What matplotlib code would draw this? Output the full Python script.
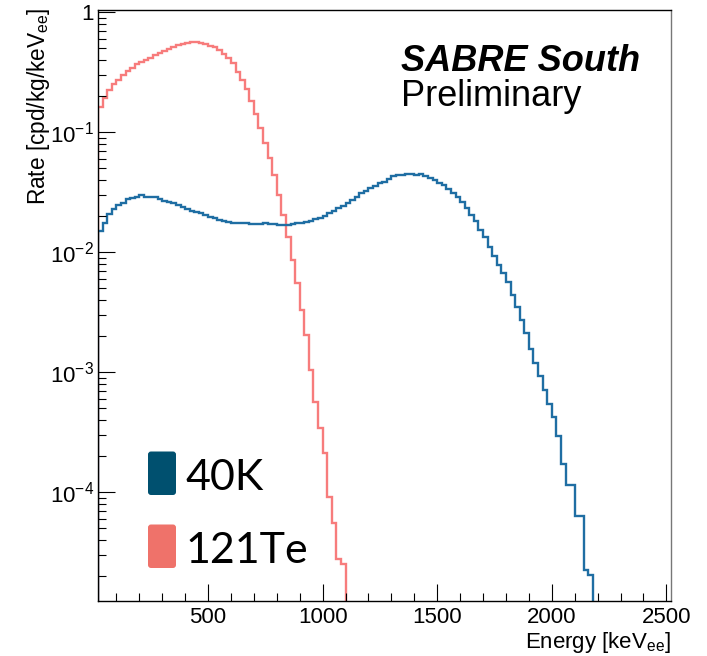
import matplotlib
matplotlib.use('Agg')
import matplotlib.pyplot as plt
import numpy as np
from matplotlib.patches import FancyBboxPatch
from matplotlib.ticker import MultipleLocator, LogLocator, FuncFormatter, NullFormatter

plt.rcParams['font.family'] = 'Liberation Sans'
plt.rcParams['mathtext.fontset'] = 'custom'
plt.rcParams['mathtext.rm'] = 'Liberation Sans'
plt.rcParams['mathtext.it'] = 'Liberation Sans:italic'

# Binning of the spectra (keV)
e_min = 20
e_max = 2520
bin_width = 20

# 40K rate per bin, cpd/kg/keV (bins from 20 keV up, zero afterwards)
k40 = [0.0151, 0.0177, 0.0207, 0.0228, 0.0248, 0.0259, 0.0276, 0.0282, 0.0287, 0.0299,
       0.0291, 0.0291, 0.0287, 0.0278, 0.0269, 0.0264, 0.0256, 0.0248, 0.0240, 0.0230,
       0.0222, 0.0218, 0.0211, 0.0205, 0.0198, 0.0192, 0.0186, 0.0183, 0.0180, 0.0177,
       0.0174, 0.0174, 0.0174, 0.0172, 0.0171, 0.0171, 0.0174, 0.0171, 0.0171, 0.0169,
       0.0169, 0.0169, 0.0171, 0.0174, 0.0177, 0.0180, 0.0183, 0.0188, 0.0194, 0.0202,
       0.0211, 0.0222, 0.0233, 0.0245, 0.0259, 0.0273, 0.0291, 0.0310, 0.0326, 0.0342,
       0.0357, 0.0376, 0.0388, 0.0406, 0.0432, 0.0441, 0.0441, 0.0447, 0.0447, 0.0441,
       0.0449, 0.0435, 0.0414, 0.0400, 0.0376, 0.0364, 0.0335, 0.0314, 0.0287, 0.0261,
       0.0233, 0.0205, 0.0182, 0.0153, 0.0135, 0.0111, 0.00937, 0.00784, 0.00668, 0.00562,
       0.00441, 0.00348, 0.00273, 0.00214, 0.00156, 0.00120, 0.000931, 0.000712, 0.000544, 0.000427,
       0.000294, 0.000171, 0.000115, 0.000115, 6.35e-5, 6.35e-5, 2.25e-5, 2.05e-5]

# 121Te rate per bin, cpd/kg/keV
te121 = [0.162, 0.192, 0.225, 0.251, 0.273, 0.300, 0.324, 0.345, 0.369, 0.383,
         0.400, 0.418, 0.441, 0.455, 0.476, 0.494, 0.511, 0.531, 0.544, 0.558,
         0.566, 0.566, 0.558, 0.544, 0.527, 0.511, 0.485, 0.449, 0.416, 0.376,
         0.320, 0.273, 0.228, 0.182, 0.142, 0.108, 0.0810, 0.0607, 0.0441, 0.0300,
         0.0205, 0.0135, 0.00863, 0.00552, 0.00331, 0.00205, 0.00104, 0.000569, 0.000341, 0.000211,
         9.2e-5, 5.5e-5, 2.8e-5, 2.53e-5]

labels = ['40K', '121Te']
line_colors = ['#1f6ea3', '#f77c7c']
legend_colors = ['#00506f', '#ef726a']

edges = np.arange(e_min, e_max + bin_width, bin_width)
n_bins = len(edges) - 1


def pad(vals):
    # empty bins sit below the frame, like ROOT draws them
    out = np.full(n_bins, 1e-9)
    out[:len(vals)] = vals
    return out


fig = plt.figure(figsize=(7.07, 6.56), dpi=100)
ax = fig.add_axes([98 / 707, 1 - 601 / 656, 573 / 707, 591 / 656])

ax.stairs(pad(te121), edges, color=line_colors[1], lw=1.7)
ax.stairs(pad(k40), edges, color=line_colors[0], lw=1.7)

ax.set_yscale('log')
ax.set_xlim(e_min, e_max)
ax.set_ylim(1.24e-5, 1.045)

ax.xaxis.set_major_locator(MultipleLocator(500))
ax.xaxis.set_minor_locator(MultipleLocator(100))
ax.yaxis.set_major_locator(LogLocator(base=10))
ax.yaxis.set_minor_locator(LogLocator(base=10, subs=np.arange(2, 10)))
ax.yaxis.set_minor_formatter(NullFormatter())


def ylab(v, pos):
    p = int(round(np.log10(v)))
    if p == 0:
        return '1'
    return r'$10^{%d}$' % p


ax.yaxis.set_major_formatter(FuncFormatter(ylab))

ax.tick_params(which='both', direction='in', top=False, right=False, width=0.8,
               labelsize=16, colors='black')
ax.tick_params(which='major', length=12.5)
ax.tick_params(which='minor', length=5.5)
ax.tick_params(axis='x', pad=4.5)
ax.tick_params(axis='y', pad=3)

for s in ax.spines.values():
    s.set_linewidth(1.0)
ax.spines['right'].set_color('#777777')

# Axis titles, ROOT style (aligned to the end of the axes)
fig.text(39 / 707, 1 - 8 / 656, r'Rate [cpd/kg/keV$_{\rm ee}$]', rotation=90,
         ha='center', va='top', fontsize=16.3)
fig.text(671 / 707, 1 - 648 / 656, r'Energy [keV$_{\rm ee}$]', ha='right',
         va='baseline', fontsize=16)

fig.text(401 / 707, 1 - 70.7 / 656, 'SABRE South', fontsize=26, fontweight='bold',
         fontstyle='italic', va='baseline')
fig.text(401 / 707, 1 - 106 / 656, 'Preliminary', fontsize=26, va='baseline')

# Legend with rounded colour blocks
box_y = [1.61, 0.88]
text_y = [1.66, 0.93]
for lab, col, by, ty in zip(labels, legend_colors, box_y, text_y):
    fig.patches.append(FancyBboxPatch((1.48, by), 0.28, 0.435,
                                      boxstyle='round,pad=0,rounding_size=0.03',
                                      transform=fig.dpi_scale_trans, color=col, lw=0))
    fig.text(1.85, ty, lab, transform=fig.dpi_scale_trans, fontsize=31,
             family='Lato', va='baseline')

fig.savefig('out.png', dpi=100)
